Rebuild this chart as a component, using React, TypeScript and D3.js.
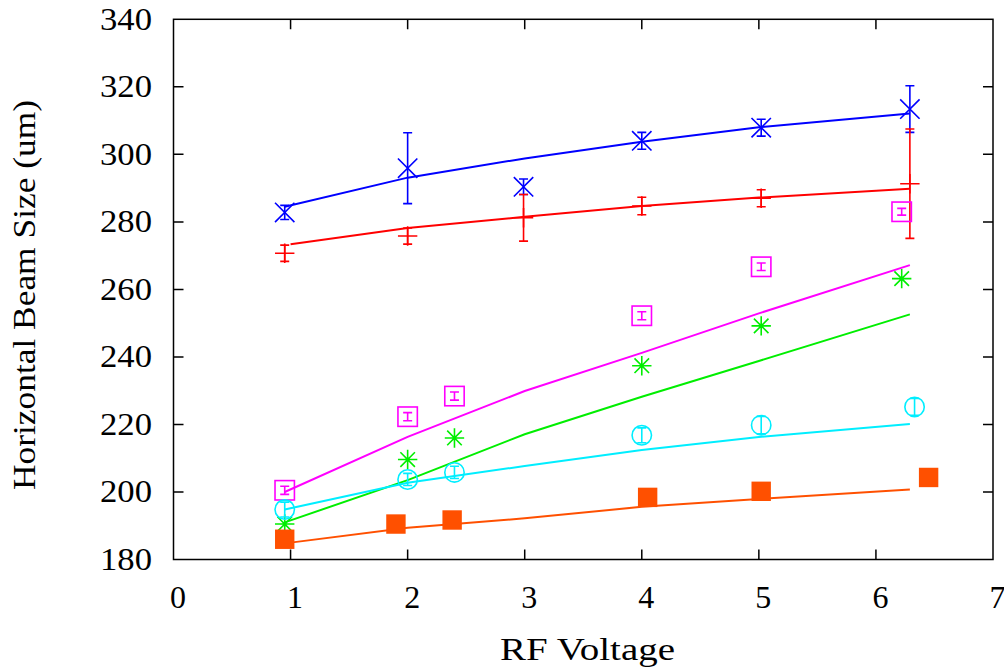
import React from "react";
import * as d3 from "d3";

// ---- data ----
const xTicks = [0, 1, 2, 3, 4, 5, 6, 7];
const yTicks = [180, 200, 220, 240, 260, 280, 300, 320, 340];

const blueX = [0.95, 2.0, 2.99, 4.0, 5.02, 6.29];
const blueY = [282.8, 295.9, 290.4, 304.0, 307.9, 313.4];
const blueErr = [2.1, 10.5, 2.3, 2.5, 2.5, 6.9];
const blueFitX = [0.95, 2, 3, 4, 5, 6.29];
const blueFitY = [284.5, 293.1, 298.8, 303.7, 308.0, 312.1];

const redX = [0.95, 2.0, 2.99, 4.0, 5.02, 6.29];
const redY = [270.7, 275.8, 281.2, 284.7, 287.0, 291.3];
const redErr = [2.4, 2.4, 6.9, 2.6, 2.5, 16.2];
const redFitX = [1.0, 2, 3, 4, 5, 6.29];
const redFitY = [273.4, 278.2, 281.5, 284.7, 287.2, 289.8];

const magentaX = [0.95, 2.0, 2.4, 4.0, 5.02, 6.22];
const magentaY = [200.5, 222.3, 228.4, 252.2, 266.7, 283.0];
const magentaErr = [1.2, 1.2, 1.2, 1.2, 1.1, 1.0];
const magentaFitX = [0.95, 2, 3, 4, 5, 6.29];
const magentaFitY = [200.0, 216.3, 229.9, 241.2, 252.9, 267.2];

const greenX = [0.95, 2.0, 2.4, 4.0, 5.02, 6.22];
const greenY = [190.5, 209.6, 216.0, 237.4, 249.2, 263.2];
const greenErr = [0, 0, 0, 0, 0, 0];
const greenFitX = [0.95, 2, 3, 4, 5, 6.29];
const greenFitY = [191.0, 203.5, 217.1, 228.2, 238.8, 252.6];

const cyanX = [0.95, 2.0, 2.4, 4.0, 5.02, 6.33];
const cyanY = [194.8, 203.7, 205.8, 216.8, 219.8, 225.2];
const cyanErr = [2.2, 1.8, 1.8, 2.2, 2.6, 2.5];
const cyanFitX = [0.95, 2, 3, 4, 5, 6.29];
const cyanFitY = [194.8, 202.7, 207.7, 212.4, 216.3, 220.1];

const orangeX = [0.95, 1.9, 2.38, 4.05, 5.02, 6.45];
const orangeY = [186.0, 190.5, 191.7, 198.4, 200.2, 204.3];
const orangeErr = [0, 0, 0, 0, 0, 0];
const orangeFitX = [1.0, 2, 3, 4, 5, 6.29];
const orangeFitY = [185.0, 189.4, 192.2, 195.6, 197.9, 200.7];

type Marker = "plus" | "cross" | "star" | "square" | "fsquare" | "circle";

const series = [
  { color: "#0000ff", marker: "cross" as Marker, x: blueX, y: blueY, err: blueErr, fx: blueFitX, fy: blueFitY },
  { color: "#ff0000", marker: "plus" as Marker, x: redX, y: redY, err: redErr, fx: redFitX, fy: redFitY },
  { color: "#ff00ff", marker: "square" as Marker, x: magentaX, y: magentaY, err: magentaErr, fx: magentaFitX, fy: magentaFitY },
  { color: "#00ee00", marker: "star" as Marker, x: greenX, y: greenY, err: greenErr, fx: greenFitX, fy: greenFitY },
  { color: "#00eeff", marker: "circle" as Marker, x: cyanX, y: cyanY, err: cyanErr, fx: cyanFitX, fy: cyanFitY },
  { color: "#ff5000", marker: "fsquare" as Marker, x: orangeX, y: orangeY, err: orangeErr, fx: orangeFitX, fy: orangeFitY },
];

const W = 1004;
const H = 672;
const L = 173.5, R = 993, T = 19.3, B = 559.5;
const TXT: React.CSSProperties = { fontFamily: '"Liberation Serif"', fontSize: "32px" };

function markerPath(m: Marker, s: number): string {
  switch (m) {
    case "plus":
      return `M${-s},0H${s}M0,${-s}V${s}`;
    case "cross":
      return `M${-s},${-s}L${s},${s}M${-s},${s}L${s},${-s}`;
    case "star":
      return `M${-s},0H${s}M0,${-s}V${s}M${-s * 0.75},${-s * 0.75}L${s * 0.75},${s * 0.75}M${-s * 0.75},${s * 0.75}L${s * 0.75},${-s * 0.75}`;
    default:
      return "";
  }
}

export default function App() {
  const x = d3.scaleLinear().domain([0, 7]).range([L, R]);
  const y = d3.scaleLinear().domain([180, 340]).range([B, T]);
  const line = d3
    .line<[number, number]>()
    .x((d) => x(d[0]))
    .y((d) => y(d[1]));
  const s = 9.7;
  const cap = 4.5;

  return (
    <div style={{ position: "absolute", left: 0, top: 0 }}>
      <svg width={W} height={H} style={{ display: "block", background: "#fff" }}>
        {/* series */}
        {series.map((sr, i) => (
          <g key={i} stroke={sr.color} strokeWidth={1.6} fill="none">
            <path d={line(sr.fx.map((v, j) => [v, sr.fy[j]] as [number, number])) || ""} strokeWidth={2} />
            {sr.x.map((xv, j) => {
              const cx = x(xv);
              const cy = y(sr.y[j]);
              const e = sr.err[j];
              const els: React.ReactNode[] = [];
              if (e > 0) {
                const y1 = y(sr.y[j] + e);
                const y2 = y(sr.y[j] - e);
                els.push(
                  <path
                    key="e"
                    d={`M${cx},${y1}V${y2}M${cx - cap},${y1}H${cx + cap}M${cx - cap},${y2}H${cx + cap}`}
                  />
                );
              }
              if (sr.marker === "square") {
                els.push(<rect key="m" x={cx - s} y={cy - s} width={2 * s} height={2 * s} />);
              } else if (sr.marker === "fsquare") {
                els.push(
                  <rect key="m" x={cx - s} y={cy - s} width={2 * s} height={2 * s} fill={sr.color} stroke="none" />
                );
              } else if (sr.marker === "circle") {
                els.push(<circle key="m" cx={cx} cy={cy} r={s} />);
              } else {
                els.push(<path key="m" transform={`translate(${cx},${cy})`} d={markerPath(sr.marker, s)} />);
              }
              return <g key={j}>{els}</g>;
            })}
          </g>
        ))}

        {/* frame & ticks */}
        <g stroke="#000" strokeWidth={1.5} fill="none">
          <rect x={L} y={T} width={R - L} height={B - T} />
          {xTicks.slice(1, -1).map((t) => (
            <path key={"xt" + t} d={`M${x(t)},${B}V${B - 10}M${x(t)},${T}V${T + 10}`} />
          ))}
          {yTicks.slice(1, -1).map((t) => (
            <path key={"yt" + t} d={`M${L},${y(t)}H${L + 10}M${R},${y(t)}H${R - 10}`} />
          ))}
        </g>

        {/* labels */}
        {yTicks.map((t) => (
          <text
            key={"yl" + t}
            x={152}
            y={y(t) + 10.5}
            textAnchor="end"
            textLength={52}
            lengthAdjust="spacingAndGlyphs"
            style={TXT}
          >
            {t}
          </text>
        ))}
        {xTicks.map((t) => (
          <text key={"xl" + t} x={x(t) + 4.5} y={608} textAnchor="middle" style={TXT}>
            {t}
          </text>
        ))}
        <text x={587.5} y={660} textAnchor="middle" textLength={175} lengthAdjust="spacingAndGlyphs" style={TXT}>
          RF Voltage
        </text>
        <text
          transform={`translate(35,295) rotate(-90)`}
          textAnchor="middle"
          textLength={390}
          lengthAdjust="spacingAndGlyphs"
          style={TXT}
        >
          Horizontal Beam Size (um)
        </text>
      </svg>
    </div>
  );
}
